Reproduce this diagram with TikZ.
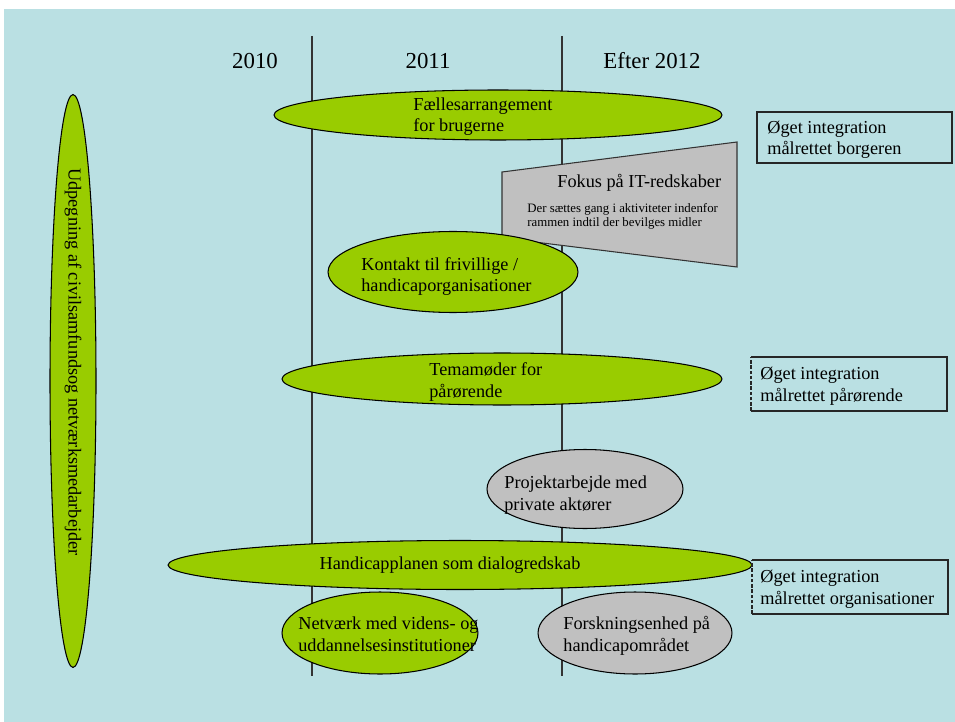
\documentclass[tikz,border=0pt]{standalone}
\usepackage{fontspec}
\setmainfont{Liberation Serif}
\usetikzlibrary{shapes.geometric}
\definecolor{bgblue}{RGB}{186,224,227}
\definecolor{leaf}{RGB}{153,204,0}
\definecolor{greyfill}{RGB}{192,192,192}
\tikzset{
  oval/.style={ellipse, draw=black, line width=0.6pt, inner sep=0pt, outer sep=0pt},
  greenoval/.style={oval, fill=leaf},
  greyoval/.style={oval, fill=greyfill},
  txt/.style={anchor=base west, align=left, inner sep=0pt, font=\fontsize{10.4}{12.3}\selectfont},
  small/.style={anchor=base west, align=left, inner sep=0pt, font=\fontsize{7.3}{8.2}\selectfont},
  year/.style={anchor=base, inner sep=0pt, font=\fontsize{13}{15}\selectfont},
  divider/.style={draw=black!80, line width=0.6pt},
  goalbox/.style={draw=black!85, line width=0.6pt}
}
\begin{document}
\begin{tikzpicture}[x=0.02cm,y=-0.02cm]
\useasboundingbox (0,0) rectangle (955,722);
\fill[bgblue] (4,9) rectangle (955,722);

% year headings
\node[year] (y2010) at (255,69) {2010};
\node[year] (y2011) at (428,69) {2011};
\node[year] (y2012) at (652,69) {Efter 2012};

% dividers
\coordinate (d1t) at (312,36); \coordinate (d1b) at (312,676);
\coordinate (d2t) at (562,36); \coordinate (d2b) at (562,676);
\draw[divider] (d1t) -- (d1b);
\draw[divider] (d2t) -- (d2b);

% left vertical ellipse
\node[greenoval, minimum width=0.92cm, minimum height=11.46cm] (civ) at (73,381) {};
\node[rotate=-90, inner sep=0pt, font=\fontsize{10.4}{12.3}\selectfont] (civt) at (73,362) {Udpegning af civilsamfundsog netværksmedarbejder};

% Faellesarrangement
\node[greenoval, minimum width=8.96cm, minimum height=1.0cm] (fael) at (498,115) {};
\node[txt] (faelt) at (413,132) {Fællesarrangement\\for brugerne};

% Box 1
\coordinate (b1a) at (757,112); \coordinate (b1b) at (952,163);
\draw[goalbox] (b1a) rectangle (b1b);
\node[txt] (b1t) at (767,155) {Øget integration\\målrettet borgeren};

% Trapezoid
\coordinate (tz1) at (502,172); \coordinate (tz2) at (737,142);
\coordinate (tz3) at (737,267); \coordinate (tz4) at (502,238);
\draw[fill=greyfill, draw=black!80, line width=0.6pt] (tz1) -- (tz2) -- (tz3) -- (tz4) -- cycle;
\node[txt] (fokus) at (557,188) {Fokus på IT-redskaber};
\node[small] (fokuss) at (527,227) {Der sættes gang i aktiviteter indenfor\\rammen indtil der bevilges midler};

% Kontakt
\node[greenoval, minimum width=5.0cm, minimum height=1.62cm] (kont) at (453,272) {};
\node[txt] (kontt) at (361,292) {Kontakt til frivillige /\\handicaporganisationer};

% Temamoeder
\node[greenoval, minimum width=8.8cm, minimum height=1.04cm] (tema) at (502,379) {};
\node[txt] (temat) at (429,397) {Temamøder for\\pårørende};

% Box 2
\coordinate (b2a) at (751,357); \coordinate (b2b) at (947,357);
\coordinate (b2c) at (947,411); \coordinate (b2d) at (751,411);
\draw[goalbox] (b2a) -- (b2b) -- (b2c) -- (b2d);
\draw[goalbox, dashed, dash pattern=on 2pt off 1pt] (b2d) -- (b2a);
\node[txt] (b2t) at (760,401) {Øget integration\\målrettet pårørende};

% Projektarbejde
\node[greyoval, minimum width=3.92cm, minimum height=1.58cm] (proj) at (585,489) {};
\node[txt] (projt) at (504,510) {Projektarbejde med\\private aktører};

% Handicapplanen
\node[greenoval, minimum width=11.68cm, minimum height=0.98cm] (hand) at (460,565) {};
\node[anchor=base, inner sep=0pt, font=\fontsize{10.4}{12.3}\selectfont] (handt) at (450,569) {Handicapplanen som dialogredskab};

% Box 3
\coordinate (b3a) at (752,560); \coordinate (b3b) at (948,560);
\coordinate (b3c) at (948,614); \coordinate (b3d) at (752,614);
\draw[goalbox] (b3a) -- (b3b) -- (b3c) -- (b3d);
\draw[goalbox, dashed, dash pattern=on 2pt off 1pt] (b3d) -- (b3a);
\node[txt] (b3t) at (760,604) {Øget integration\\målrettet organisationer};

% Netvaerk
\node[greenoval, minimum width=3.92cm, minimum height=1.64cm] (netv) at (380,633) {};
\node[txt] (netvt) at (298,651) {Netværk med videns- og\\uddannelsesinstitutioner};

% Forskning
\node[greyoval, minimum width=3.88cm, minimum height=1.64cm] (forsk) at (635,633) {};
\node[txt] (forskt) at (563,651) {Forskningsenhed på\\handicapområdet};
\end{tikzpicture}
\end{document}
